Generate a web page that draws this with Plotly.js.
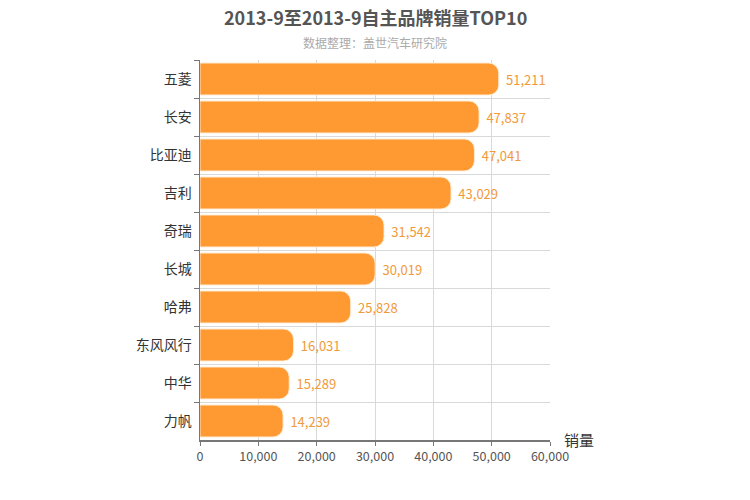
<!DOCTYPE html>
<html><head><meta charset="utf-8">
<script src="https://cdn.plot.ly/plotly-3.0.1.min.js"></script>
<style>html,body{margin:0;padding:0;background:#fff;}#chart{width:750px;height:500px;}</style>
</head><body><div id="chart"></div>
<script>
const brands = ["五菱","长安","比亚迪","吉利","奇瑞","长城","哈弗","东风风行","中华","力帆"];
const sales = [51211,47837,47041,43029,31542,30019,25828,16031,15289,14239];
const titleText = "2013-9至2013-9自主品牌销量TOP10";
const subtitleText = "数据整理：盖世汽车研究院";
const axisTitle = "销量";
const xTicks = [0,10000,20000,30000,40000,50000,60000];

const font = '"Noto Sans CJK SC", "Noto Sans", sans-serif';
const trace = {
  type: 'bar', orientation: 'h',
  x: sales, y: brands,
  marker: {color: '#ff9a33', line: {color: 'rgba(255,235,210,0.9)', width: 1}, cornerradius: 10},
  width: 0.84,
  text: sales.map(v => '\u2004' + v.toLocaleString('en-US')),
  textposition: 'outside', cliponaxis: false,
  textfont: {family: font, size: 13, color: '#f09a3a'},
  hoverinfo: 'none'
};
const layout = {
  width: 750, height: 500,
  margin: {l: 200, r: 200, t: 60, b: 60},
  paper_bgcolor: '#fff', plot_bgcolor: '#fff',
  showlegend: false,
  font: {family: font},
  xaxis: {range: [0, 60000], tickvals: xTicks, ticktext: xTicks.map(v => v.toLocaleString('en-US')),
    showgrid: true, gridcolor: '#d9d9d9', gridwidth: 1, zeroline: false,
    showline: true, linecolor: '#777', linewidth: 1.5, ticks: 'outside', ticklen: 4, tickcolor: '#777',
    tickfont: {size: 12.5, color: '#555'}, mirror: false},
  yaxis: {type: 'category', autorange: 'reversed', tickson: 'boundaries',
    showgrid: true, gridcolor: '#d9d9d9', gridwidth: 1,
    showline: true, linecolor: '#777', linewidth: 1.5, ticks: 'outside', ticklen: 5, tickcolor: '#777',
    tickfont: {size: 14, color: '#333'}, ticklabelstandoff: 4},
  bargap: 0.16,
  annotations: [
    {text: '<b>' + titleText + '</b>', xref: 'paper', yref: 'paper', x: 0.5, y: 1 + (60 - 17) / 380,
     xanchor: 'center', yanchor: 'middle', showarrow: false, font: {size: 18, color: '#555'}},
    {text: subtitleText, xref: 'paper', yref: 'paper', x: 0.5, y: 1 + (60 - 43) / 380, xanchor: 'center', yanchor: 'middle', showarrow: false,
     font: {size: 12, color: '#aaa'}},
    {text: axisTitle, xref: 'paper', yref: 'paper', x: 1, y: 0, xanchor: 'left', yanchor: 'bottom',
     xshift: 12, yshift: -12, showarrow: false, font: {size: 15, color: '#333'}}
  ]
};
Plotly.newPlot('chart', [trace], layout, {displayModeBar: false, staticPlot: true});
</script></body></html>
